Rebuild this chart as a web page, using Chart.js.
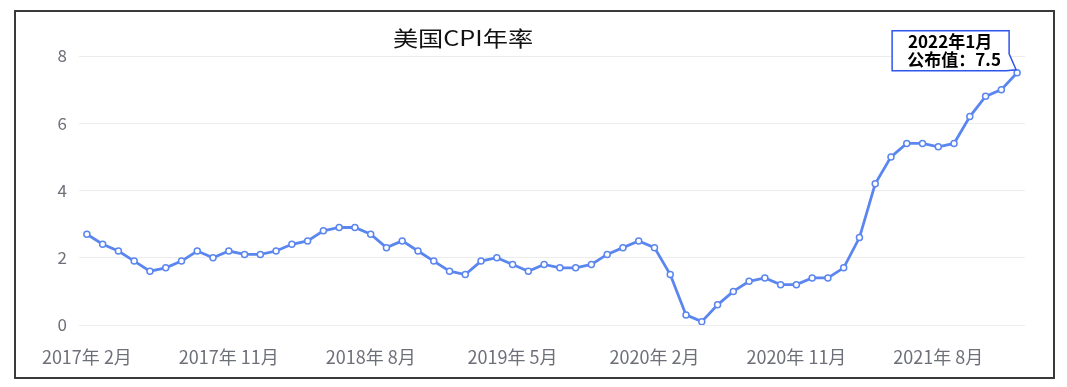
<!DOCTYPE html>
<html>
<head>
<meta charset="utf-8">
<script src="https://cdn.jsdelivr.net/npm/chart.js@4"></script>
<style>
  html, body { margin: 0; padding: 0; background: #fff; }
  #wrap { position: relative; width: 1067px; height: 387px; }
</style>
</head>
<body>
<div id="wrap"><canvas id="cpi-chart" width="1067" height="387"></canvas></div>
<script>
// Months Feb 2017 .. Jan 2022
const months = [
    '2017年 2月', '2017年 3月', '2017年 4月', '2017年 5月', '2017年 6月', '2017年 7月',
    '2017年 8月', '2017年 9月', '2017年 10月', '2017年 11月', '2017年 12月',
    '2018年 1月', '2018年 2月', '2018年 3月', '2018年 4月', '2018年 5月', '2018年 6月',
    '2018年 7月', '2018年 8月', '2018年 9月', '2018年 10月', '2018年 11月', '2018年 12月',
    '2019年 1月', '2019年 2月', '2019年 3月', '2019年 4月', '2019年 5月', '2019年 6月',
    '2019年 7月', '2019年 8月', '2019年 9月', '2019年 10月', '2019年 11月', '2019年 12月',
    '2020年 1月', '2020年 2月', '2020年 3月', '2020年 4月', '2020年 5月', '2020年 6月',
    '2020年 7月', '2020年 8月', '2020年 9月', '2020年 10月', '2020年 11月', '2020年 12月',
    '2021年 1月', '2021年 2月', '2021年 3月', '2021年 4月', '2021年 5月', '2021年 6月',
    '2021年 7月', '2021年 8月', '2021年 9月', '2021年 10月', '2021年 11月', '2021年 12月',
    '2022年 1月'
];

const cpiRate = [
    2.7, 2.4, 2.2, 1.9, 1.6, 1.7, 1.9, 2.2, 2.0, 2.2, 2.1,
    2.1, 2.2, 2.4, 2.5, 2.8, 2.9, 2.9, 2.7, 2.3, 2.5, 2.2, 1.9,
    1.6, 1.5, 1.9, 2.0, 1.8, 1.6, 1.8, 1.7, 1.7, 1.8, 2.1, 2.3,
    2.5, 2.3, 1.5, 0.3, 0.1, 0.6, 1.0, 1.3, 1.4, 1.2, 1.2, 1.4,
    1.4, 1.7, 2.6, 4.2, 5.0, 5.4, 5.4, 5.3, 5.4, 6.2, 6.8, 7.0,
    7.5
];

const yTicks = [0, 2, 4, 6, 8];
const labelEvery = 9;

const chartTitle = '美国CPI年率';
const calloutLines = ['2022年1月', '公布值：7.5'];

const FONT = '"Noto Sans CJK SC", "Noto Sans", sans-serif';

// frame, title and the callout on the last point
const decorations = {
    id: 'decorations',
    beforeDraw(chart) {
        const ctx = chart.ctx;
        ctx.save();
        ctx.fillStyle = '#fff';
        ctx.fillRect(0, 0, chart.width, chart.height);
        ctx.strokeStyle = '#3a3a3a';
        ctx.lineWidth = 2;
        ctx.strokeRect(15, 11, 1039, 367);
        ctx.restore();
    },
    afterDatasetsDraw(chart) {
        const ctx = chart.ctx;
        ctx.save();
        // title looks a bit stretched sideways in the original
        ctx.translate(463, 38);
        ctx.scale(1.2, 1);
        ctx.fillStyle = '#111';
        ctx.font = '21px ' + FONT;
        ctx.textAlign = 'center';
        ctx.textBaseline = 'middle';
        ctx.fillText(chartTitle, 0, 0);
        ctx.restore();

        ctx.save();
        const meta = chart.getDatasetMeta(0);
        const last = meta.data[meta.data.length - 1];
        const px = last.x, py = last.y;
        const boxR = px - 8, boxL = boxR - 117, boxT = py - 42, boxB = py - 2;
        ctx.beginPath();
        ctx.moveTo(boxL, boxT);
        ctx.lineTo(boxR, boxT);
        ctx.lineTo(boxR, boxB - 17);
        ctx.lineTo(px - 1, py - 3);
        ctx.lineTo(boxR - 3, boxB);
        ctx.lineTo(boxL, boxB);
        ctx.closePath();
        ctx.fillStyle = '#fff';
        ctx.fill();
        ctx.strokeStyle = '#2f55ee';
        ctx.lineWidth = 1.5;
        ctx.stroke();

        ctx.fillStyle = '#000';
        ctx.font = 'bold 17px ' + FONT;
        ctx.textAlign = 'center';
        ctx.textBaseline = 'middle';
        ctx.fillText(calloutLines[0], boxL + 58, boxT + 11);
        ctx.fillText(calloutLines[1], boxL + 62, boxT + 29);
        ctx.restore();
    }
};

const ctx = document.getElementById('cpi-chart').getContext('2d');
new Chart(ctx, {
    type: 'line',
    data: {
        labels: months,
        datasets: [{
            data: cpiRate,
            borderColor: '#5b86f0',
            borderWidth: 2.8,
            pointRadius: 3,
            pointBorderWidth: 1.5,
            pointBackgroundColor: '#fff',
            pointBorderColor: '#5b86f0',
            tension: 0,
            fill: false
        }]
    },
    options: {
        responsive: false,
        animation: false,
        layout: { padding: { left: 14, right: 42, top: 56, bottom: 0 } },
        plugins: {
            legend: { display: false },
            tooltip: { enabled: false },
            title: { display: false }
        },
        scales: {
            x: {
                type: 'category',
                offset: true,
                grid: { display: false, drawTicks: false },
                border: { display: false },
                afterFit: s => { s.height = 62; },
                ticks: {
                    autoSkip: false,
                    maxRotation: 0,
                    padding: 21,
                    color: '#6e7079',
                    font: { family: FONT, size: 18 },
                    callback: function(value, index) {
                        return index % labelEvery === 0 ? months[index] : '';
                    }
                }
            },
            y: {
                min: 0,
                max: 8,
                afterFit: s => { s.width = 65; },
                afterBuildTicks: s => { s.ticks = yTicks.map(v => ({ value: v })); },
                grid: { color: '#ececec', drawTicks: false, lineWidth: 1 },
                border: { display: false },
                ticks: {
                    padding: 12,
                    color: '#6e7079',
                    font: { family: FONT, size: 17 }
                }
            }
        }
    },
    plugins: [decorations]
});
</script>
</body>
</html>
